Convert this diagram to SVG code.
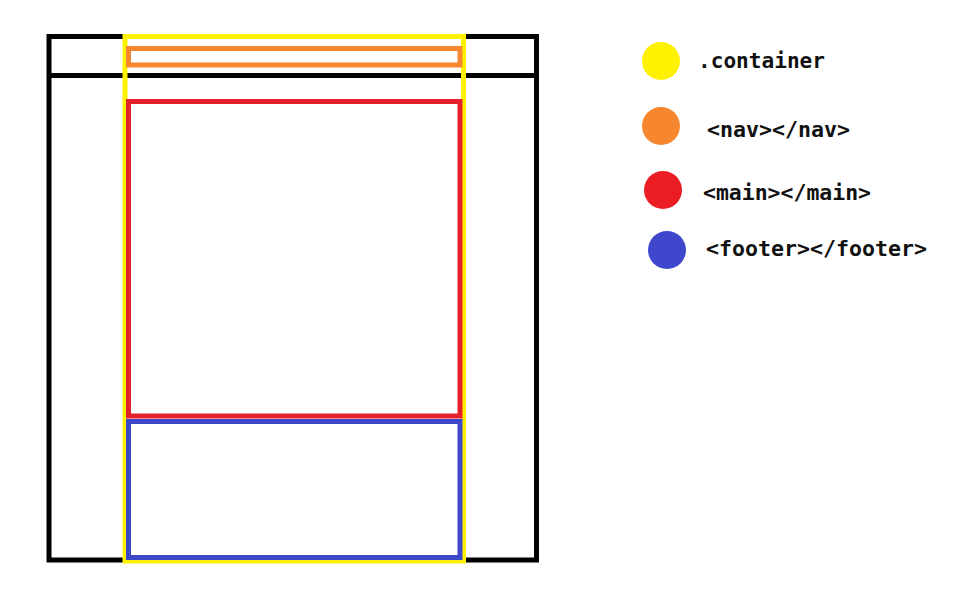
<svg xmlns="http://www.w3.org/2000/svg" width="972" height="606" viewBox="0 0 972 606">
<style>
.box{fill:none;stroke-width:5}
.lbl{font-family:"DejaVu Sans Mono","Liberation Mono",monospace;font-weight:bold;font-size:21px;fill:#111}
</style>
<rect width="972" height="606" fill="#fff"/>
<g id="page">
<rect class="box" x="49" y="36.5" width="487.5" height="523.5" stroke="#000"/>
<line x1="49" y1="75.5" x2="536.5" y2="75.5" stroke="#000" stroke-width="5"/>
</g>
<g id="container">
<rect class="box" x="125" y="36.5" width="338.5" height="524.5" stroke="#fff200" stroke-width="4.5"/>
</g>
<g id="nav">
<rect class="box" x="128.5" y="48.5" width="331.5" height="16.5" stroke="#f7872f"/>
</g>
<g id="main">
<rect class="box" x="128.5" y="101.5" width="331.5" height="314.5" stroke="#e5222b"/>
</g>
<g id="footer">
<rect class="box" x="128.5" y="421.5" width="331.5" height="136" stroke="#3d48c8"/>
</g>
<g id="legend">
<circle cx="661" cy="61" r="19" fill="#fff200"/>
<text class="lbl" x="698" y="68" textLength="127" lengthAdjust="spacingAndGlyphs">.container</text>
<circle cx="661" cy="126" r="19" fill="#f7872f"/>
<text class="lbl" x="707" y="137" textLength="143" lengthAdjust="spacingAndGlyphs">&lt;nav&gt;&lt;/nav&gt;</text>
<circle cx="663" cy="190" r="19" fill="#ec1c24"/>
<text class="lbl" x="703" y="200" textLength="168" lengthAdjust="spacingAndGlyphs">&lt;main&gt;&lt;/main&gt;</text>
<circle cx="667" cy="250" r="19" fill="#3f48cc"/>
<text class="lbl" x="706" y="256" textLength="221" lengthAdjust="spacingAndGlyphs">&lt;footer&gt;&lt;/footer&gt;</text>
</g>
</svg>
